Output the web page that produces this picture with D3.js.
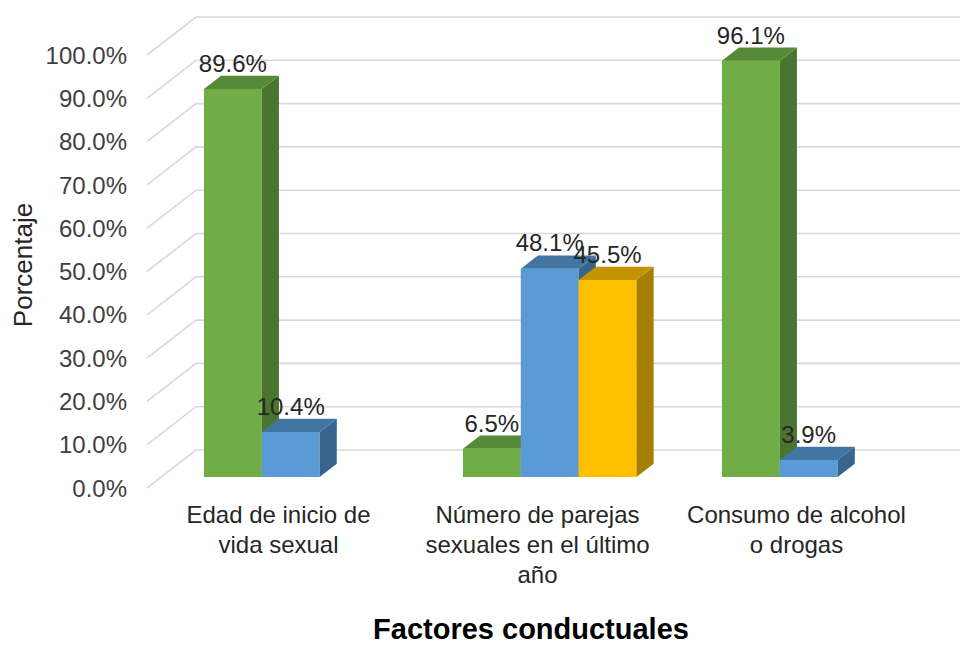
<!DOCTYPE html>
<html>
<head>
<meta charset="utf-8">
<script src="https://cdn.jsdelivr.net/npm/d3@7"></script>
<style>
  html, body { margin: 0; padding: 0; background: #ffffff; }
  svg { display: block; font-family: "Liberation Sans", Arial, sans-serif; }
</style>
</head>
<body>
<svg id="chart" width="960" height="646"></svg>
<script>
// Categories (one label line per entry)
const categories = ["edad", "parejas", "consumo"];
const categoryLines = [
  ["Edad de inicio de", "vida sexual"],
  ["Número de parejas", "sexuales en el último", "año"],
  ["Consumo de alcohol", "o drogas"]
];

// Series values in percent (null = no bar)
const seriesNames = ["serie1", "serie2", "serie3"];
const serie1 = [89.6, 6.5, 96.1];
const serie2 = [10.4, 48.1, 3.9];
const serie3 = [null, 45.5, null];

// Value axis ticks
const tickValues = [0, 10, 20, 30, 40, 50, 60, 70, 80, 90, 100];

const yTitle = "Porcentaje";
const xTitle = "Factores conductuales";

// Face colours per series: front, side, top
const palette = {
  serie1: { front: "#70ad47", side: "#4a7530", top: "#568a37" },
  serie2: { front: "#5b9bd5", side: "#38648d", top: "#4375a3" },
  serie3: { front: "#ffc000", side: "#a77f00", top: "#c39300" }
};

const svg = d3.select("#chart");
const W = 960;

// Oblique 3D frame: front-left floor corner, full depth offset
const X0 = 147, X1 = 924, Y0 = 488;
const DX = 49, DY = 38;
const PLOT_H = 433;

const h = d3.scaleLinear().domain([0, 100]).range([0, PLOT_H]);
const x = d3.scaleBand().domain(categories).range([X0, X1])
  .paddingInner(0.33).paddingOuter(0.165);
const xs = d3.scaleBand().domain(seriesNames).range([0, x.bandwidth()]);

// project a front-plane x, a value and a depth fraction t to screen
function P(px, v, t) {
  return [px + t * DX, Y0 - t * DY - h(v)];
}

// Gridlines: left wall diagonal + back wall horizontal
const grid = svg.append("g").attr("stroke", "#d9d9d9").attr("stroke-width", 1.6).attr("fill", "none");
tickValues.forEach(v => {
  const a = P(X0, v, 0), b = P(X0, v, 1);
  grid.append("path").attr("d", `M${a[0]},${a[1]}L${b[0]},${b[1]}L${W},${b[1]}`);
});

// Value axis tick labels
svg.append("g").selectAll("text").data(tickValues).join("text")
  .attr("x", 127).attr("y", d => P(X0, d, 0)[1])
  .attr("dy", "0.36em").attr("text-anchor", "end")
  .attr("font-size", 24).attr("fill", "#404040")
  .text(d => d3.format(".1f")(d) + "%");

// Bars (drawn left to right so nearer fronts cover earlier sides)
const T0 = 0.29, T1 = 0.64;
const seriesData = { serie1, serie2, serie3 };
const bars = [];
categories.forEach((c, i) => {
  seriesNames.forEach(s => {
    const v = seriesData[s][i];
    if (v == null) return;
    bars.push({ c, s, v, xl: x(c) + xs(s), xr: x(c) + xs(s) + xs.bandwidth() });
  });
});

const gBars = svg.append("g");
const pts = arr => arr.map(p => p.join(",")).join(" ");
bars.forEach(b => {
  const col = palette[b.s];
  const fbl = P(b.xl, 0, T0), fbr = P(b.xr, 0, T0), ftl = P(b.xl, b.v, T0), ftr = P(b.xr, b.v, T0);
  const bbr = P(b.xr, 0, T1), btl = P(b.xl, b.v, T1), btr = P(b.xr, b.v, T1);
  const g = gBars.append("g");
  g.append("polygon").attr("points", pts([fbl, fbr, ftr, ftl])).attr("fill", col.front);
  g.append("polygon").attr("points", pts([fbr, bbr, btr, ftr])).attr("fill", col.side);
  g.append("polygon").attr("points", pts([ftl, ftr, btr, btl])).attr("fill", col.top);
  b.labelX = (b.xl + b.xr) / 2 + T0 * DX;
  b.labelY = btl[1] - 4;
});

// Value labels
svg.append("g").selectAll("text").data(bars).join("text")
  .attr("x", d => d.labelX).attr("y", d => d.labelY)
  .attr("text-anchor", "middle").attr("font-size", 24).attr("fill", "#262626")
  .text(d => d3.format(".1f")(d.v) + "%");

// Category labels
const catG = svg.append("g");
categories.forEach((c, i) => {
  const t = catG.append("text")
    .attr("x", x(c) + x.bandwidth() / 2 + 2).attr("y", 523)
    .attr("text-anchor", "middle").attr("font-size", 24).attr("fill", "#262626");
  categoryLines[i].forEach((line, k) => {
    t.append("tspan").attr("x", x(c) + x.bandwidth() / 2 + 2).attr("dy", k === 0 ? 0 : 30).text(line);
  });
});

// Axis titles
svg.append("text")
  .attr("transform", "translate(32,265) rotate(-90)")
  .attr("text-anchor", "middle").attr("font-size", 26).attr("fill", "#262626")
  .text(yTitle);

svg.append("text")
  .attr("x", 531).attr("y", 639)
  .attr("text-anchor", "middle").attr("font-size", 29).attr("font-weight", "bold").attr("fill", "#000")
  .text(xTitle);
</script>
</body>
</html>
